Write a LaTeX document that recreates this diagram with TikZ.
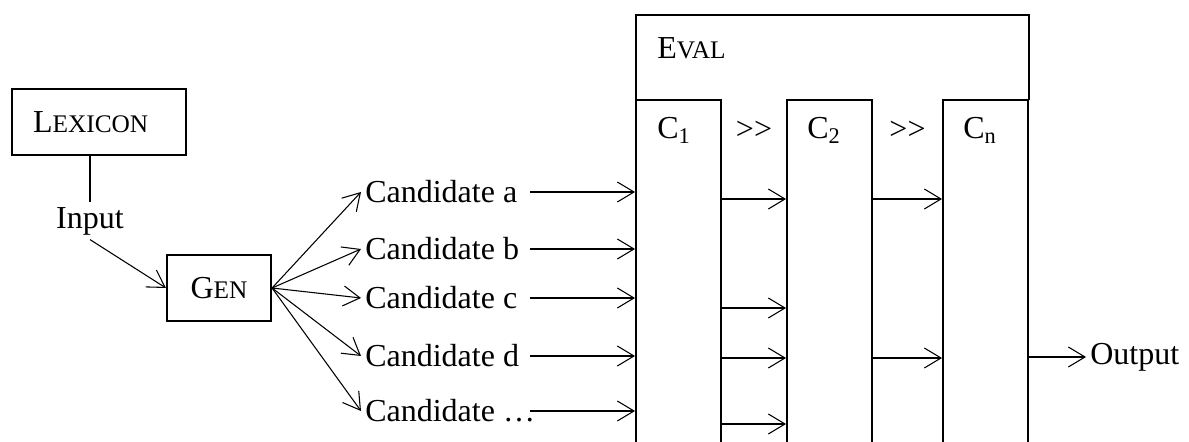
\documentclass[tikz,border=0pt]{standalone}
\usepackage{fontspec}
\setmainfont{Liberation Serif}
\usetikzlibrary{arrows.meta}

% small caps the way a word processor fakes them
\newcommand{\fakesc}[2]{#1{\fontsize{19}{22}\selectfont #2}}

\begin{document}
\begin{tikzpicture}[x=0.75pt,y=-0.75pt,font=\fontsize{24}{28}\selectfont,
	box/.style={draw,line width=1.6pt},
	arr/.style={line width=0.8pt,-{Straight Barb[length=12.5pt,width=15pt]}},
	cand/.style={anchor=west,inner sep=3pt},
	lbl/.style={anchor=west,inner sep=0pt},
	column/.style={draw,line width=1.5pt,anchor=north,minimum width=63.75pt,minimum height=285.75pt}]

\clip (0,0) rectangle (1189,442);

% lexicon, input and generator
\node[box,minimum width=130.5pt,minimum height=49.5pt,text width=99pt,align=left,inner xsep=15.75pt] (lex) at (99,122) {\fakesc{L}{EXICON}};
\node (input) at (90,221) {Input};
\node[box,minimum width=78pt,minimum height=49.5pt] (gen) at (219,288) {\fakesc{G}{EN}};

\draw[line width=1pt] (lex.south -| input.north) -- (input.north);
\draw[arr] (input.south) -- (gen.west);

% candidates
\node[cand] (ca) at (361,192) {Candidate a};
\node[cand] (cb) at (361,249) {Candidate b};
\node[cand] (cc) at (361,298) {Candidate c};
\node[cand] (cd) at (361,356) {Candidate d};
\node[cand] (ce) at (361,411) {Candidate …};

\foreach \c in {ca,cb,cc,cd,ce}	\draw[arr] (gen.east) -- (\c.west);

% evaluator with its constraints
\node[minimum width=294pt,minimum height=63pt,anchor=north west,inner sep=0pt] (eval) at (636,15) {};
\draw[line width=1.5pt] (eval.south west) |- (eval.north east) -- (eval.south east);
\node[lbl] (evallbl) at ([shift={(21,33)}]eval.north west) {\fakesc{E}{VAL}};

\node[column] (c1) at (678.5,99) {};
\node[column] (c2) at (829.5,99) {};
\node[column] (cn) at (985.5,99) {};

\node[lbl] (c1lbl) at ([shift={(22,31)}]c1.north west) {C\textsubscript{1}};
\node[lbl] (c2lbl) at ([shift={(21,31)}]c2.north west) {C\textsubscript{2}};
\node[lbl] (cnlbl) at ([shift={(21,31)}]cn.north west) {C\textsubscript{n}};

\node (gt1) at (754,130) {>{}>};
\node (gt2) at (907.5,130) {>{}>};

\coordinate (tail) at (530,0);
\foreach \c in {ca,cb,cc,cd,ce}	\draw[arr] (\c -| tail) -- (\c -| c1.west);

\foreach \y in {199,308,358,424}	\draw[arr] (c1.east |- 0,\y) -- (c2.west |- 0,\y);
\foreach \y in {199,358}	\draw[arr] (c2.east |- 0,\y) -- (cn.west |- 0,\y);

% output
\node[cand] (out) at (1086,357) {Output};
\draw[arr] (cn.east |- out) -- (out.west);

\end{tikzpicture}
\end{document}
